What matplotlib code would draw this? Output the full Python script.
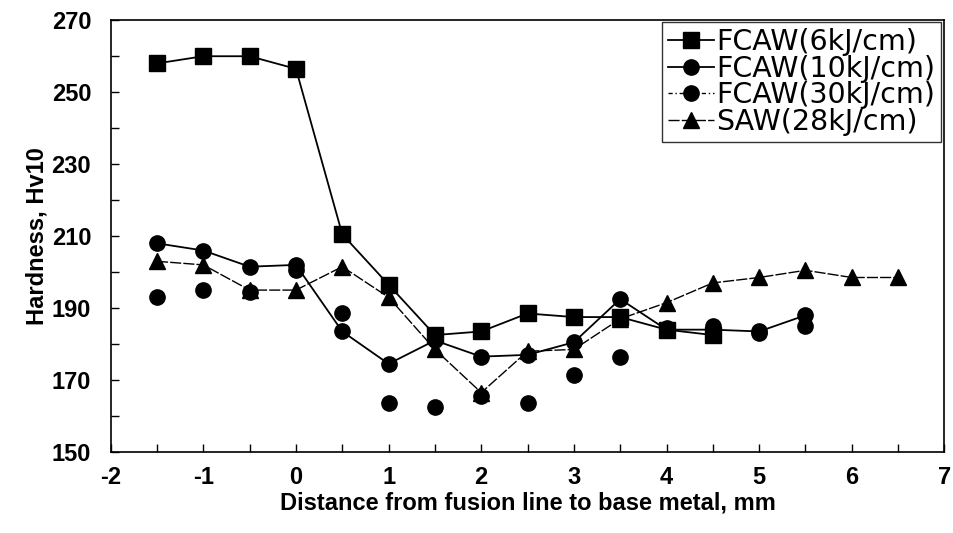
import matplotlib.pyplot as plt
from matplotlib.lines import Line2D
from matplotlib.ticker import MultipleLocator

plt.rcParams['font.family'] = ['Liberation Sans', 'DejaVu Sans']
plt.rcParams['axes.unicode_minus'] = False

x_6kj = [-1.5, -1, -0.5, 0, 0.5, 1, 1.5, 2, 2.5, 3, 3.5, 4, 4.5]
hv_6kj = [258, 260, 260, 256.5, 210.5, 196.5, 182.5, 183.5, 188.5, 187.5, 187.5, 184, 182.5]

x_10kj = [-1.5, -1, -0.5, 0, 0.5, 1, 1.5, 2, 2.5, 3, 3.5, 4, 4.5, 5, 5.5]
hv_10kj = [208, 206, 201.5, 202, 183.5, 174.5, 181, 176.5, 177, 180.5, 192.5, 184, 184, 183.5, 188]

x_30kj = [-1.5, -1, -0.5, 0, 0.5, 1, 1.5, 2, 2.5, 3, 3.5, 4, 4.5, 5, 5.5]
hv_30kj = [193, 195, 194.5, 200.5, 188.5, 163.5, 162.5, 165.5, 163.5, 171.5, 176.5, 184.5, 185, 183, 185]

x_saw = [-1.5, -1, -0.5, 0, 0.5, 1, 1.5, 2, 2.5, 3, 3.5, 4, 4.5, 5, 5.5, 6, 6.5]
hv_saw = [203, 202, 195, 195, 201.5, 193, 178.5, 166.5, 178, 178.5, 187, 191.5, 197, 198.5, 200.5, 198.5, 198.5]

labels = ['FCAW(6kJ/cm)', 'FCAW(10kJ/cm)', 'FCAW(30kJ/cm)', 'SAW(28kJ/cm)']
y_ticks = [150, 170, 190, 210, 230, 250, 270]

fig = plt.figure(figsize=(9.54, 5.33), dpi=100)
ax = fig.add_axes([0.116, 0.152, 0.874, 0.810])

ax.plot(x_6kj, hv_6kj, color='black', lw=1.3, marker='s', ms=11.5)
ax.plot(x_10kj, hv_10kj, color='black', lw=1.3, marker='o', ms=11)
ax.plot(x_30kj, hv_30kj, color='black', ls='none', marker='o', ms=11)
ax.plot(x_saw, hv_saw, color='black', lw=1.0, ls=(0, (8, 1.5)), marker='^', ms=11)

handles = [
    Line2D([], [], color='black', lw=1.3, marker='s', ms=11),
    Line2D([], [], color='black', lw=1.3, marker='o', ms=11),
    Line2D([], [], color='black', lw=1.0, ls=(0, (3, 2, 1, 2)), marker='o', ms=11),
    Line2D([], [], color='black', lw=1.0, ls=(0, (8, 1.5)), marker='^', ms=11),
]
leg = ax.legend(handles, labels, loc='upper right', bbox_to_anchor=(0.996, 0.995),
                prop={'family': 'DejaVu Sans', 'size': 20.5}, frameon=True,
                fancybox=False, borderaxespad=0, handlelength=1.6,
                handletextpad=0.1, labelspacing=-0.05, borderpad=0.2)
leg.get_frame().set_edgecolor('black')
leg.get_frame().set_linewidth(1.0)

ax.set_xlim(-2, 7)
ax.set_ylim(150, 270)
ax.xaxis.set_major_locator(MultipleLocator(1))
ax.xaxis.set_minor_locator(MultipleLocator(0.5))
ax.set_yticks(y_ticks)
ax.yaxis.set_minor_locator(MultipleLocator(10))
ax.tick_params(which='both', direction='in', length=6, width=1, labelsize=17, pad=14)
ax.tick_params(axis='x', pad=10)
for lab in ax.get_xticklabels() + ax.get_yticklabels():
    lab.set_fontweight('bold')
for sp in ax.spines.values():
    sp.set_linewidth(1.2)

ax.set_xlabel('Distance from fusion line to base metal, mm', fontsize=17, fontweight='bold', labelpad=2)
ax.set_ylabel('Hardness, Hv10', fontsize=17, fontweight='bold', labelpad=2)

fig.savefig('out.png', dpi=100)
